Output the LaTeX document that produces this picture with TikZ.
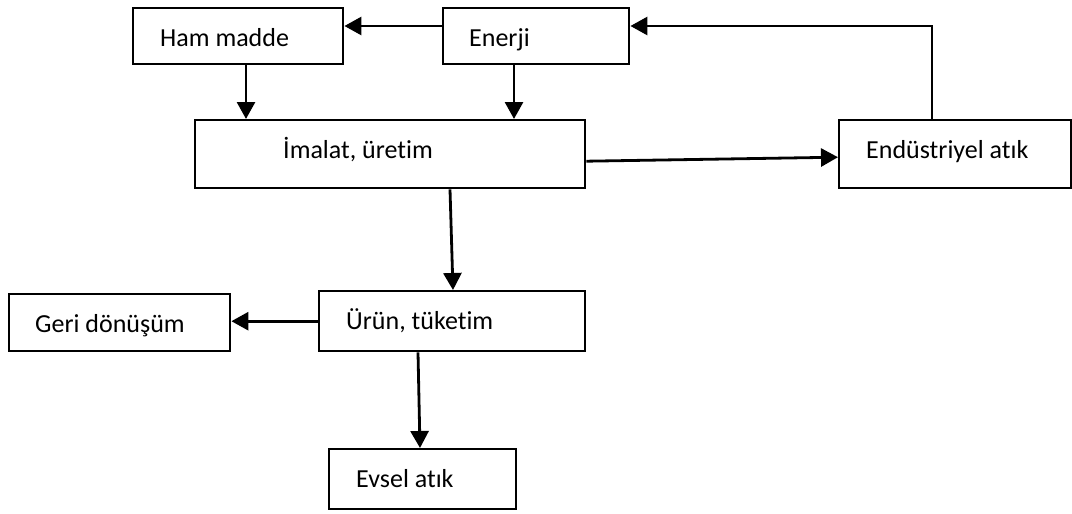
\documentclass[tikz,border=0pt]{standalone}
\usepackage{fontspec}
\setmainfont{Carlito}[Ligatures=NoCommon]
\usetikzlibrary{arrows.meta,calc}
\newcommand\lbx[2]{\makebox[#1][l]{#2}}
\begin{document}
\begin{tikzpicture}[x=1pt,y=-1pt,
  blk/.style n args={4}{draw, line width=2.4pt, anchor=north west,
    minimum width=#1, minimum height=#2, inner xsep=#3, inner ysep=0pt,
    text height=20pt, text depth=#4,
    font=\fontsize{26}{29}\selectfont},
  arr/.style={line width=2.8pt, -{Triangle[length=17pt,width=18pt]}}]
\useasboundingbox (0,0) rectangle (1072,514);
\node[blk={210pt}{56pt}{27pt}{0pt}] (hm) at (132,7) {\lbx{156pt}{Ham madde}};
\node[blk={186pt}{56pt}{26pt}{0pt}] (en) at (442,7) {\lbx{134pt}{Enerji}};
\node[blk={390pt}{68pt}{88pt}{12pt}] (im) at (194,119) {\lbx{214pt}{İmalat, üretim}};
\node[blk={232pt}{68pt}{27pt}{12pt}] (ea) at (838,119) {\lbx{178pt}{Endüstriyel atık}};
\node[blk={266pt}{60pt}{27pt}{4pt}] (ur) at (318,290) {\lbx{212pt}{Ürün, tüketim}};
\node[blk={221pt}{57pt}{26pt}{-1pt}] (gd) at (8,293) {\lbx{169pt}{Geri dönüşüm}};
\node[blk={187pt}{60pt}{27pt}{4pt}] (ev) at (328,448) {\lbx{133pt}{Evsel atık}};
\draw[arr] ([yshift=-19pt]en.north west) -- ([yshift=-19pt]hm.north east);
\draw[arr] ([xshift=114pt]hm.south west) -- ([xshift=114pt]hm.south west |- im.north);
\draw[arr] ([xshift=72pt]en.south west) -- ([xshift=72pt]en.south west |- im.north);
\draw[arr] ([yshift=-7pt]im.east) -- ([yshift=-3pt]ea.west);
\draw[arr] ([xshift=94pt]ea.north west) |- ([yshift=-19pt]en.north east);
\draw[arr] ([xshift=256pt]im.south west) -- ([xshift=135pt]ur.north west);
\draw[arr] (ur.west) -- (gd.east |- ur.west);
\draw[arr] ([xshift=100pt]ur.south west) -- ([xshift=92pt]ev.north west);
\end{tikzpicture}
\end{document}
